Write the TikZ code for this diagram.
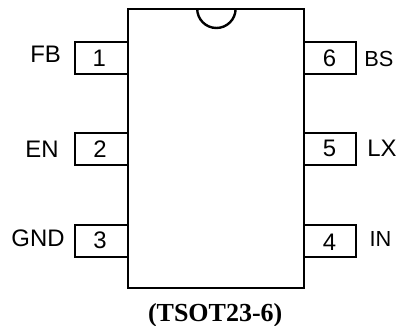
\documentclass[tikz,border=0pt]{standalone}
\usepackage{fontspec}
\setmainfont{Liberation Sans}
\newfontfamily\titlefont{Liberation Serif}
\tikzset{
  outline/.style={line width=1.7pt, line join=miter},
  pinlabel/.style={inner sep=0pt, font=\fontsize{17}{17}\selectfont},
  smalllabel/.style={inner sep=0pt, font=\fontsize{15.5}{15.5}\selectfont}
}
\begin{document}
\begin{tikzpicture}
\useasboundingbox (0,0) rectangle (9.95,8.15);

% Draw pins
\draw[outline] (3.2,7.1) -- (1.875,7.1) -- (1.875,6.3) -- (3.2,6.3);
\draw[outline] (3.2,4.83) -- (1.875,4.83) -- (1.875,4.02) -- (3.2,4.02);
\draw[outline] (3.2,2.53) -- (1.875,2.53) -- (1.875,1.73) -- (3.2,1.73);
\draw[outline] (7.6,7.1) -- (8.9,7.1) -- (8.9,6.3) -- (7.6,6.3);
\draw[outline] (7.6,4.83) -- (8.9,4.83) -- (8.9,4.02) -- (7.6,4.02);
\draw[outline] (7.6,2.53) -- (8.9,2.53) -- (8.9,1.73) -- (7.6,1.73);

% Draw body
\draw[outline] (3.2,0.95) rectangle (7.6,7.93);
\draw[outline] (4.93,7.93) arc (180:360:0.48);

% Left side
\node[pinlabel] (fb) at (1.14,6.8) {FB};
\node[pinlabel] (en) at (1.05,4.43) {EN};
\node[pinlabel] (gnd) at (0.95,2.19) {GND};
\node[pinlabel] (pin1) at (2.48,6.69) {1};
\node[pinlabel] (pin2) at (2.5,4.41) {2};
\node[pinlabel] (pin3) at (2.5,2.14) {3};

% Right side
\node[pinlabel] (pin6) at (8.24,6.69) {6};
\node[pinlabel] (pin5) at (8.24,4.44) {5};
\node[pinlabel] (pin4) at (8.24,2.1) {4};
\node[smalllabel] (bs) at (9.47,6.68) {BS};
\node[pinlabel] (lx) at (9.55,4.45) {LX};
\node[smalllabel] (in) at (9.51,2.17) {IN};

% Package name
\node[inner sep=0pt, font=\titlefont\bfseries\fontsize{18.5}{18.5}\selectfont] (package) at (5.38,0.27) {(TSOT23-6)};
\end{tikzpicture}
\end{document}
